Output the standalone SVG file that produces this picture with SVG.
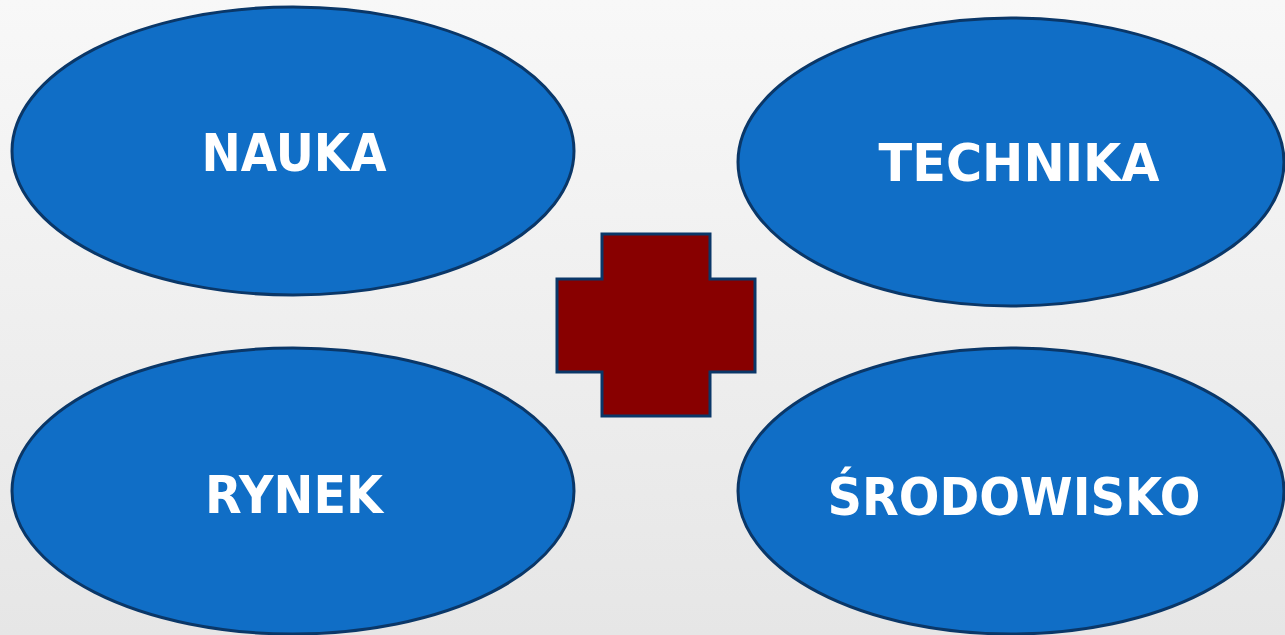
<svg xmlns="http://www.w3.org/2000/svg" width="1285" height="635" viewBox="0 0 1285 635">
<defs>
<linearGradient id="bg" x1="0" y1="0" x2="0" y2="1">
<stop offset="0" stop-color="#f8f8f8"/>
<stop offset="1" stop-color="#e6e6e6"/>
</linearGradient>
</defs>
<style>
.node{fill:#106ec6;stroke:#0a3768;stroke-width:3}
.lbl{fill:#ffffff;font-family:"DejaVu Sans",Verdana,sans-serif;font-weight:bold;font-size:51px;text-anchor:middle}
.cross{fill:#880000;stroke:#0a3768;stroke-width:3}
</style>
<rect width="1285" height="635" fill="url(#bg)"/>
<g id="connectors"></g>
<g id="nauka">
<ellipse class="node" cx="293" cy="151" rx="281" ry="144"/>
<text class="lbl" x="294" y="171" textLength="185" lengthAdjust="spacingAndGlyphs">NAUKA</text>
</g>
<g id="technika">
<ellipse class="node" cx="1011" cy="162" rx="273" ry="144"/>
<text class="lbl" x="1019" y="181" textLength="281" lengthAdjust="spacingAndGlyphs">TECHNIKA</text>
</g>
<g id="rynek">
<ellipse class="node" cx="293" cy="491" rx="281" ry="143"/>
<text class="lbl" x="294" y="513" textLength="178" lengthAdjust="spacingAndGlyphs">RYNEK</text>
</g>
<g id="srodowisko">
<ellipse class="node" cx="1011" cy="491" rx="273" ry="143"/>
<text class="lbl" x="1014" y="515" textLength="373" lengthAdjust="spacingAndGlyphs">ŚRODOWISKO</text>
</g>
<g id="plus">
<path class="cross" d="M602,234 H710 V279 H755 V372 H710 V416 H602 V372 H557 V279 H602 Z"/>
</g>
</svg>
